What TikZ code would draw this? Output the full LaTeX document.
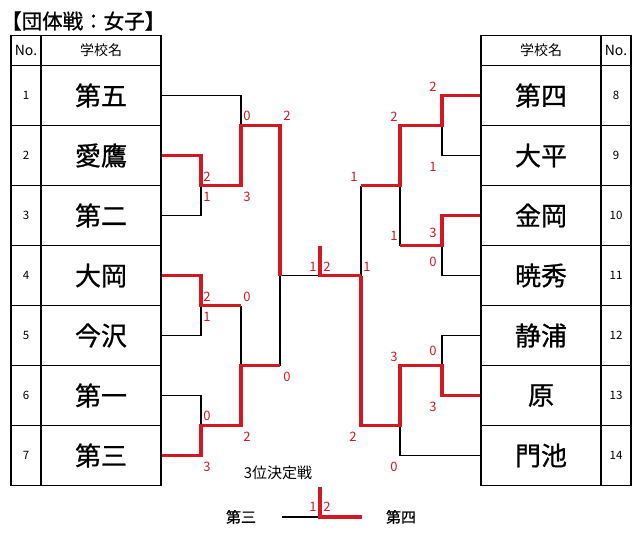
\documentclass[tikz,border=0pt]{standalone}
\usepackage{fontspec}
\setmainfont{Noto Sans CJK JP}
\newfontfamily\heavyfont[FakeBold=0.8]{Noto Sans CJK JP}
\usetikzlibrary{positioning,calc}
\definecolor{winred}{RGB}{210,25,35}

\tikzset{
  cell/.style={draw,line width=1.8pt,inner sep=0pt,minimum height=60pt},
  namecell/.style={cell,minimum width=120pt,font=\heavyfont\fontsize{26}{26}\selectfont},
  nocell/.style={cell,minimum width=30pt,font=\fontsize{11.5}{11.5}\selectfont},
  headcell/.style={minimum height=30pt,font=\fontsize{14}{14}\selectfont},
  lose/.style={line width=1.8pt},
  win/.style={line width=3.2pt,draw=winred},
  score/.style={text=winred,inner sep=0pt,font=\fontsize{13}{13}\selectfont}
}

\begin{document}
\begin{tikzpicture}[x=1pt,y=-1pt]
  \useasboundingbox (0,0) rectangle (641,536);

  \node[anchor=west,inner sep=0pt,font=\heavyfont\fontsize{20.5}{20.5}\selectfont] (title) at (1,21) {【団体戦：女子】};

  % tables
  \node[nocell,headcell] (LNh) at (26,50.5) {No.};
  \node[namecell,headcell] (Lh) at (101,50.5) {学校名};
  \foreach \name [count=\i] in {第五,愛鷹,第二,大岡,今沢,第一,第三} {
    \node[nocell] (LN\i) at (26,{35.5+60*\i}) {\i};
    \node[namecell] (L\i) at (101,{35.5+60*\i}) {\name};
  }
  \node[namecell,headcell] (Rh) at (541,50.5) {学校名};
  \node[nocell,headcell] (RNh) at (616,50.5) {No.};
  \foreach \name [count=\i, evaluate=\i as \n using int(\i+7)] in {第四,大平,金岡,暁秀,静浦,原,門池} {
    \node[namecell] (R\n) at (541,{35.5+60*\i}) {\name};
    \node[nocell] (RN\n) at (616,{35.5+60*\i}) {\n};
  }

  % bracket points
  \coordinate (j1) at (241,125.5);
  \coordinate (j23) at (201,185.5);
  \coordinate (j45) at (201,305.5);
  \coordinate (m45) at (241,305.5);
  \coordinate (j67) at (201,425.5);
  \coordinate (jL2) at (241,365.5);
  \coordinate (m67) at (280,365.5);
  \coordinate (cL) at (280,275.5);
  \coordinate (tick) at (320,275.5);
  \coordinate (tickTop) at (320,245.5);
  \coordinate (cR) at (361,275.5);
  \coordinate (r89) at (442,125.5);
  \coordinate (rU) at (400,185.5);
  \coordinate (mU) at (361,185.5);
  \coordinate (r1011) at (442,245.5);
  \coordinate (m1011) at (400,245.5);
  \coordinate (r1213) at (442,365.5);
  \coordinate (r14) at (400,425.5);

  % losers
  \draw[lose] (L1.east) -| (j1);
  \draw[lose] (L3.east) -| (j23);
  \draw[lose] (L5.east) -| (j45);
  \draw[lose] (m45) -- (jL2);
  \draw[lose] (L6.east) -| (j67);
  \draw[lose] (m67) -- (cL) -- (tick);
  \draw[lose] (R9.west) -| (r89);
  \draw[lose] (R11.west) -| (r1011);
  \draw[lose] (m1011) -- (rU);
  \draw[lose] (mU) -- (cR);
  \draw[lose] (R12.west) -| (r1213);
  \draw[lose] (R14.west) -| (r14);

  % winners
  \draw[win] (L2.east) -| (j23) -| (j1) -| (cL);
  \draw[win] (L4.east) -| (j45) -- (m45);
  \draw[win] (L7.east) -| (j67) -| (jL2) -- (m67);
  \draw[win] (tickTop) -- (tick) -- (cR);
  \draw[win] (R8.west) -| (r89) -| (rU) -- (mU);
  \draw[win] (R10.west) -| (r1011) -- (m1011);
  \draw[win] (R13.west) -| (r1213) -| (r14) -| (cR);

  % scores
  \foreach \s/\x/\y in {0/247/116, 2/287/116, 2/207/177, 1/207/197, 3/247/197,
      2/207/297, 1/207/317, 0/247/297, 0/287/377, 0/207/416, 2/247/437, 3/207/467,
      1/313/267, 2/327/267,
      2/433/87, 2/394/117, 1/433/167, 1/354/177, 1/394/236, 3/433/233, 0/433/262, 1/367/267,
      3/394/357, 0/433/351, 3/433/407, 2/353/437, 0/394/467}
    \node[score] at (\x,\y) {\s};

  % third place
  \node[font=\fontsize{15}{15}\selectfont] (third) at (278,473) {3位決定戦};
  \node[font=\heavyfont\fontsize{15}{15}\selectfont] (thirdL) at (241,517) {第三};
  \node[font=\heavyfont\fontsize{15}{15}\selectfont] (thirdR) at (401,517) {第四};
  \coordinate (b0) at (282,517);
  \coordinate (bt) at (320,517);
  \coordinate (btTop) at (320,487);
  \coordinate (b1) at (362,517);
  \draw[lose] (b0) -- (bt);
  \draw[win] (btTop) -- (bt) -- (b1);
  \node[score] at (313,507) {1};
  \node[score] at (327,507) {2};
\end{tikzpicture}
\end{document}
